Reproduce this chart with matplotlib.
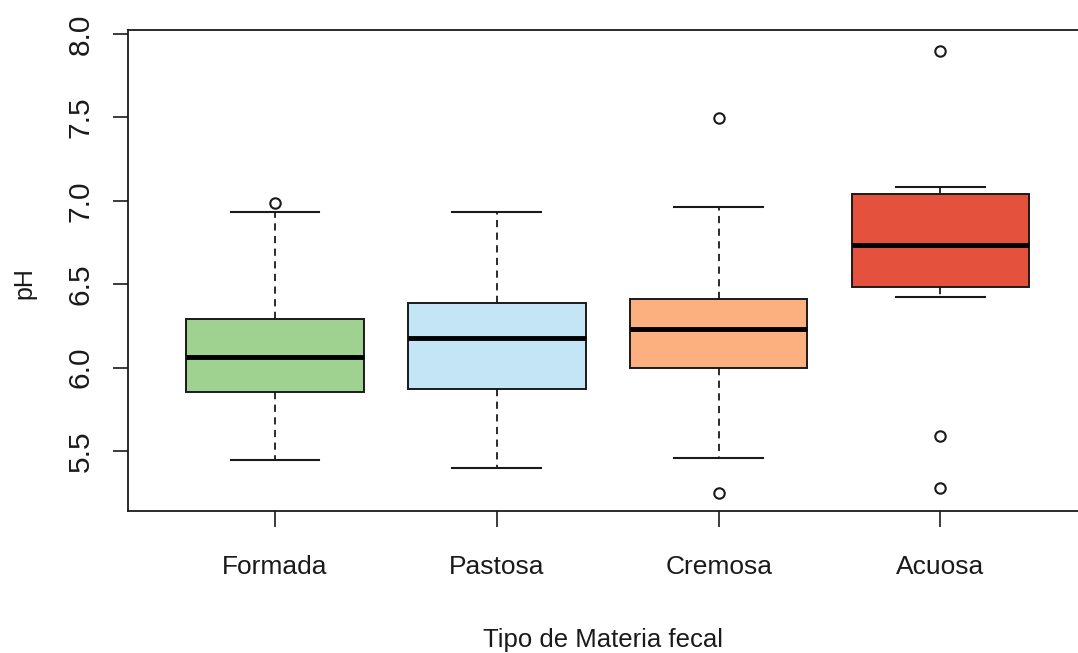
import numpy as np
import matplotlib.pyplot as plt

plt.rcParams['font.family'] = ['Liberation Sans', 'DejaVu Sans']

# boxplot stats
categorias = ['Formada', 'Pastosa', 'Cremosa', 'Acuosa']
bigote_inf = [5.445, 5.398, 5.458, 6.423]
q1 = [5.855, 5.872, 5.998, 6.483]
mediana = [6.065, 6.177, 6.231, 6.735]
q3 = [6.290, 6.387, 6.411, 7.041]
bigote_sup = [6.935, 6.933, 6.963, 7.083]
atipicos = [[6.987], [], [5.248, 7.496], [5.278, 5.590, 7.898]]
colores = ['#9fd191', '#c4e5f6', '#fdb07f', '#e4523e']

stats = []
for i, nombre in enumerate(categorias):
    stats.append(dict(label=nombre, whislo=bigote_inf[i], q1=q1[i], med=mediana[i],
                      q3=q3[i], whishi=bigote_sup[i], fliers=atipicos[i]))

fig = plt.figure(figsize=(10.78, 6.53), dpi=100)
ax = fig.add_axes([0.1187, 0.2175, 0.8813, 0.7365])

bp = ax.bxp(stats, positions=[1, 2, 3, 4], widths=0.8, patch_artist=True,
            boxprops=dict(edgecolor='#1a1a1a', linewidth=1.4),
            whiskerprops=dict(color='#1a1a1a', linewidth=1.3, linestyle=(0, (4, 3))),
            capprops=dict(color='#1a1a1a', linewidth=1.5),
            medianprops=dict(color='black', linewidth=3.5),
            flierprops=dict(marker='o', markerfacecolor='none', markeredgecolor='#1a1a1a',
                            markersize=7.5, markeredgewidth=1.5))
for caja, c in zip(bp['boxes'], colores):
    caja.set_facecolor(c)

ax.set_xlim(0.337, 4.62)
ax.set_ylim(5.14, 8.024)
ax.set_yticks([5.5, 6.0, 6.5, 7.0, 7.5, 8.0])
ax.set_yticklabels(['5.5', '6.0', '6.5', '7.0', '7.5', '8.0'], rotation=90, va='center')
ax.tick_params(axis='y', length=11, width=1.2, pad=13, labelsize=21.5, colors='#1a1a1a')
ax.tick_params(axis='x', length=11.5, width=1.2, pad=20, labelsize=19, colors='#1a1a1a')

for lado in ['left', 'top', 'bottom']:
    ax.spines[lado].set_linewidth(1.3)
    ax.spines[lado].set_color('#1a1a1a')
ax.spines['right'].set_visible(False)

ax.set_ylabel('pH', fontsize=18, color='#1a1a1a')
ax.yaxis.set_label_coords(-0.096, 0.474)
ax.set_xlabel('Tipo de Materia fecal', fontsize=18.5, color='#1a1a1a')
ax.xaxis.set_label_coords(0.5, -0.243)

plt.savefig('out.png', dpi=100)
